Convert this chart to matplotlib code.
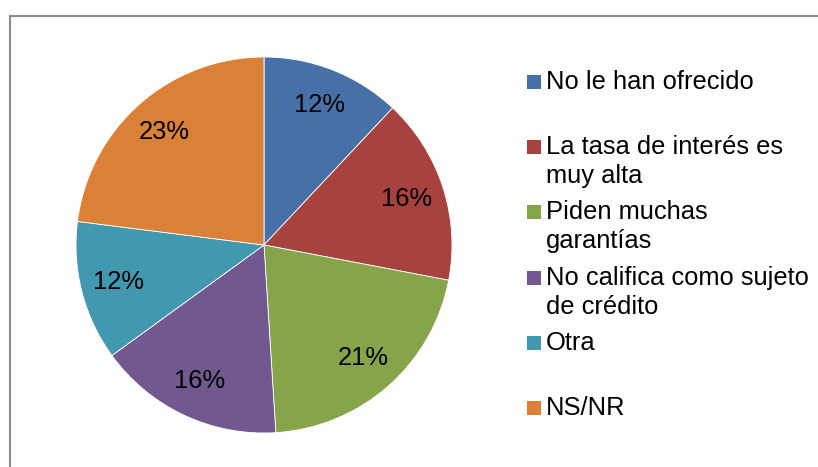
import matplotlib.pyplot as plt
from matplotlib.patches import Rectangle

plt.rcParams['font.family'] = ['Liberation Sans', 'DejaVu Sans']

# datos
categorias = ['No le han ofrecido', 'La tasa de interés es\nmuy alta', 'Piden muchas\ngarantías',
              'No califica como sujeto\nde crédito', 'Otra', 'NS/NR']
valores = [12, 16, 21, 16, 12, 23]
colores = ['#4670A7', '#A8423F', '#86A44A', '#71588F', '#4198AF', '#DA8137']

W, H = 818, 467
fig = plt.figure(figsize=(W / 100, H / 100), dpi=100)

# borde gris del gráfico
fig.patches.append(Rectangle((10 / W, -0.05), 1.1, 1 - 16 / H + 0.05, transform=fig.transFigure,
                             fill=False, edgecolor='#8c8c8c', linewidth=1.5))

# pastel
cx, cy, r = 264, 245, 188
ax = fig.add_axes([(cx - r) / W, (H - cy - r) / H, 2 * r / W, 2 * r / H])
ax.pie(valores, colors=colores, startangle=90, counterclock=False, radius=1,
       autopct='%1.0f%%', pctdistance=0.8,
       wedgeprops=dict(edgecolor='white', linewidth=0.6),
       textprops=dict(fontsize=18.4, color='black'))
ax.set_xlim(-1, 1)
ax.set_ylim(-1, 1)
ax.set_aspect('equal')
ax.axis('off')

# leyenda manual
for i, (lab, col) in enumerate(zip(categorias, colores)):
    y = 82 + i * 65.2
    fig.patches.append(Rectangle((527 / W, 1 - (y + 7) / H), 14 / W, 14 / H,
                                 transform=fig.transFigure, facecolor=col, edgecolor='none'))
    for j, linea in enumerate(lab.split('\n')):
        fig.text(546 / W, 1 - (y + j * 29) / H, linea, fontsize=18.4, va='center', ha='left')

fig.savefig('out.png', dpi=100)
